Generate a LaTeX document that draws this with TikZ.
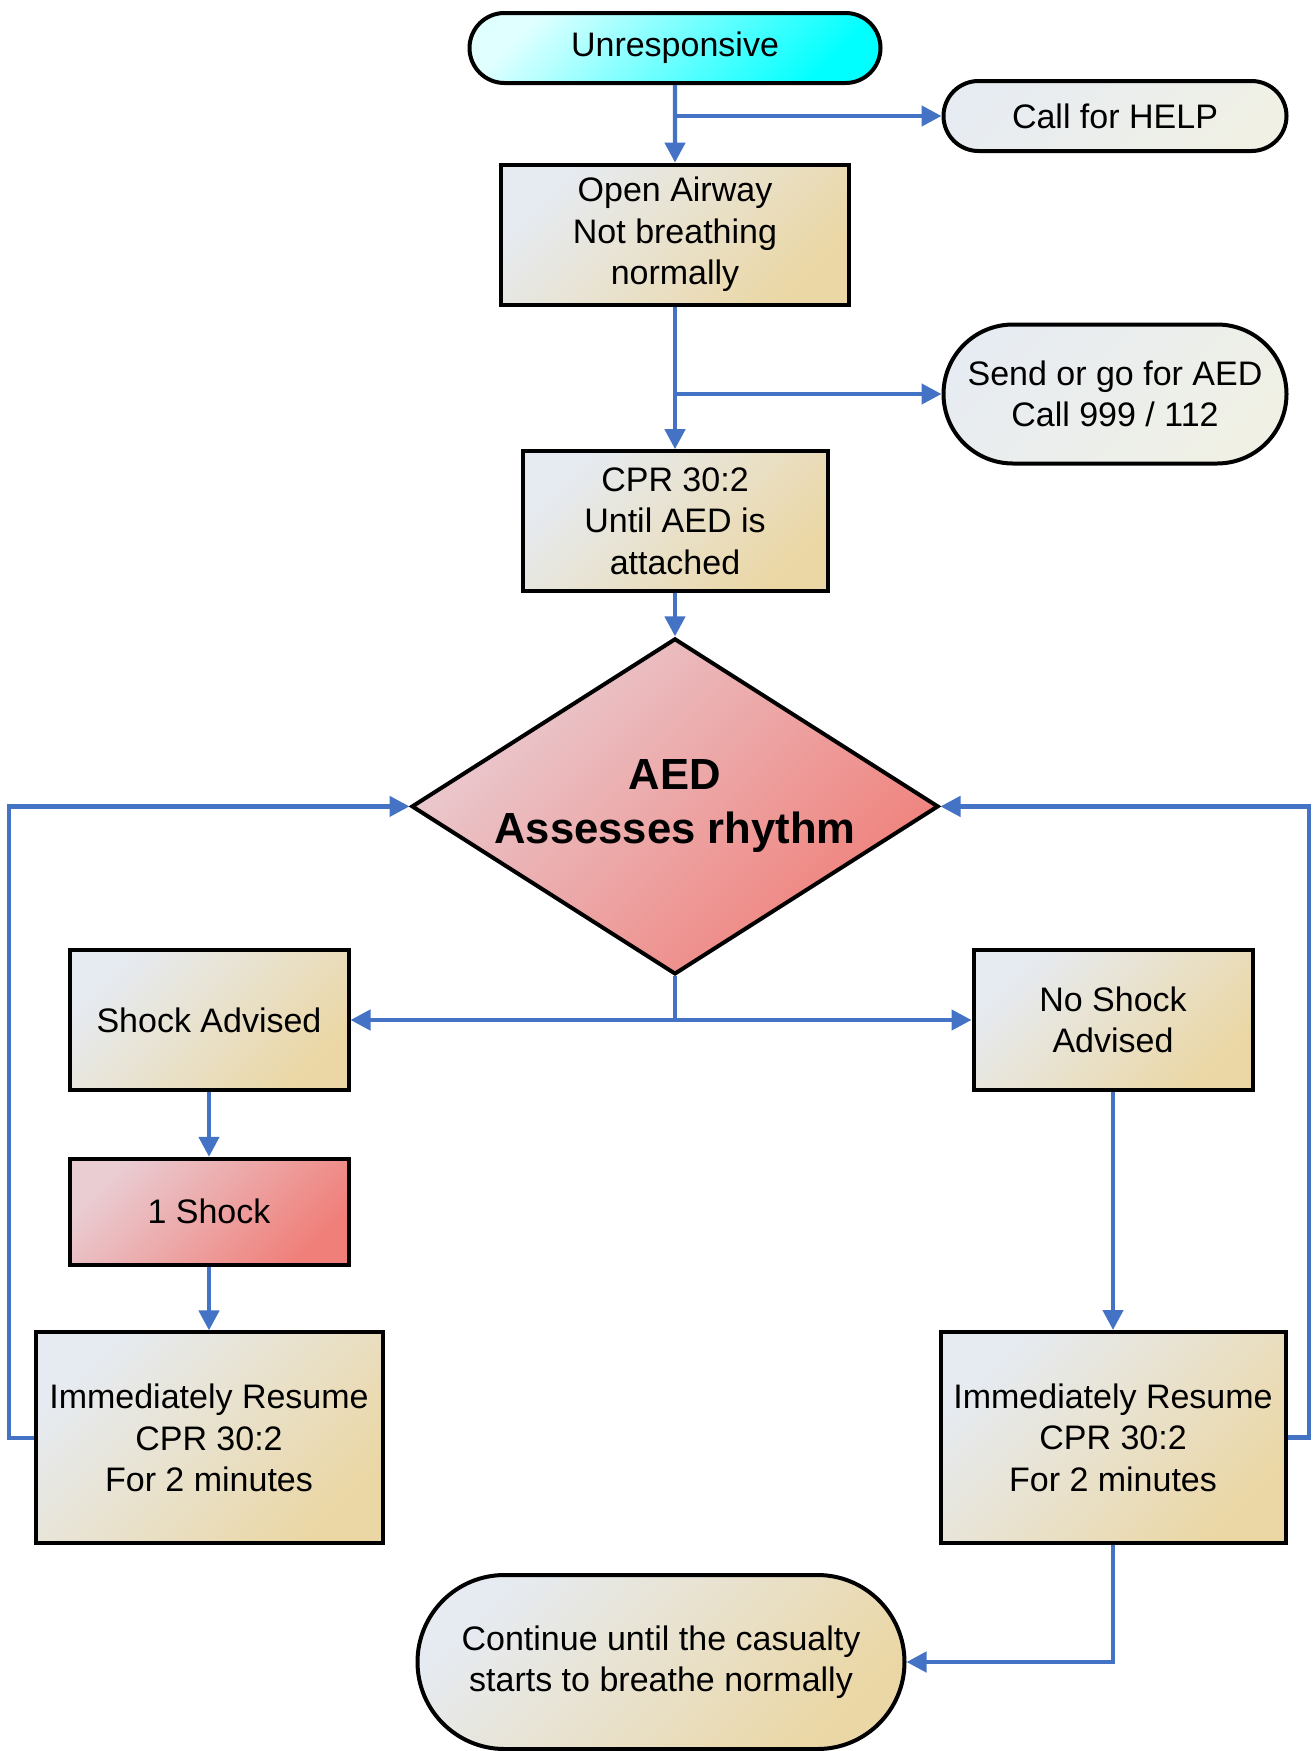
\documentclass[tikz,border=0pt]{standalone}
\usepackage{fontspec}
\setmainfont{Liberation Sans}
\usetikzlibrary{arrows.meta,positioning,shapes.geometric,shapes.misc}
\definecolor{flowblue}{HTML}{4472C4}
\definecolor{paleblue}{HTML}{E6EBF2}
\definecolor{boxtan}{HTML}{EBD7A5}
\definecolor{palepink}{HTML}{E9CDD3}
\definecolor{aedred}{HTML}{F07F79}
\definecolor{palegrey}{HTML}{E7ECF2}
\definecolor{greycream}{HTML}{F0F0E5}

\begin{document}
\begin{tikzpicture}[x=0.5pt,y=-0.5pt,>={Triangle[length=10pt,width=10pt]},
  every node/.style={font=\fontsize{17}{20.7}\selectfont},
  box/.style={draw,line width=2pt,align=center,inner sep=2pt,top color=paleblue,middle color=boxtan!88!paleblue,bottom color=boxtan,shading angle=45},
  redbox/.style={box,top color=palepink,middle color=aedred!82!palepink,bottom color=aedred,shading angle=45},
  pill/.style={box,rounded rectangle,top color=palegrey,middle color=palegrey!50!greycream,bottom color=greycream,shading angle=45},
  flow/.style={draw=flowblue,line width=2.2pt,->}]
\useasboundingbox[fill=white] (0,0) rectangle (1316,1751);

% main column
\node[pill,top color=cyan!12!white,middle color=cyan,bottom color=cyan,shading angle=45,minimum width=209.5pt,minimum height=35pt] (unresp) at (675,48) {Unresponsive};
\node[box,below=38.8pt of unresp,minimum width=174pt,minimum height=70pt] (airway) {Open Airway\\Not breathing\\normally};
\node[box,below=71.3pt of airway,minimum width=152.5pt,minimum height=70pt] (cpr) {CPR 30:2\\Until AED is\\attached};
\node[redbox,diamond,below=21.6pt of cpr,inner sep=0pt,aspect=1.57,minimum width=263.5pt,minimum height=168pt,font=\fontsize{21.8}{27}\selectfont\bfseries] (aed) {AED\\Assesses rhythm};

% side calls
\node[pill,minimum width=175.5pt,minimum height=35pt] (help) at (1115,116) {Call for HELP};
\node[pill,minimum width=175.5pt,minimum height=69.5pt] (send) at (1115,394) {Send or go for AED\\Call 999 / 112};

% shock branch
\node[box,minimum width=139.5pt,minimum height=70pt] (shock) at (209,1020) {Shock Advised};
\node[redbox,below=32.4pt of shock,minimum width=139.5pt,minimum height=53pt] (oneshock) {1 Shock};
\node[box,below=31.8pt of oneshock,minimum width=173.5pt,minimum height=105.5pt] (resumeL) {Immediately Resume\\CPR 30:2\\For 2 minutes};

% no shock branch
\node[box,minimum width=139.5pt,minimum height=70pt] (noshock) at (1113,1020) {No Shock\\Advised};
\node[box,below=119pt of noshock,minimum width=172.5pt,minimum height=105.5pt] (resumeR) {Immediately Resume\\CPR 30:2\\For 2 minutes};

\node[box,rounded rectangle,minimum width=247.5pt,minimum height=87pt] (cont) at (661,1662) {Continue until the casualty\\starts to breathe normally};

\coordinate (loopL) at (9,804);
\coordinate (loopR) at (1309,804);

\draw[flow] (unresp) -- (airway);
\draw[flow] (unresp.south |- help.west) -- (help);
\draw[flow] (airway) -- (cpr);
\draw[flow] (airway.south |- send.west) -- (send);
\draw[flow] (cpr) -- (aed);
\draw[flow] (aed.south) |- (shock.east);
\draw[flow] (aed.south) |- (noshock.west);
\draw[flow] (shock) -- (oneshock);
\draw[flow] (oneshock) -- (resumeL);
\draw[flow] (noshock) -- (resumeR);
\draw[flow] (resumeL.west) -| (loopL |- aed.west) -- (aed.west);
\draw[flow] (resumeR.east) -| (loopR |- aed.east) -- (aed.east);
\draw[flow] (resumeR.south) |- (cont.east);
\end{tikzpicture}
\end{document}
